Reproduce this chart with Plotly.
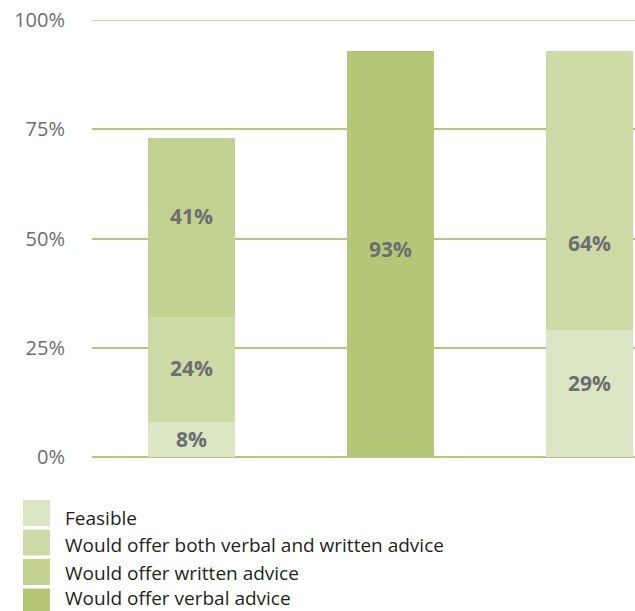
import plotly.graph_objects as go

# Three survey groups (no axis labels are shown for them)
categories = ["Group A", "Group B", "Group C"]

series_names = [
    "Feasible",
    "Would offer both verbal and written advice",
    "Would offer written advice",
    "Would offer verbal advice",
]
feasible = [8, None, 29]
both_advice = [24, None, 64]
written_advice = [41, None, None]
verbal_advice = [None, 93, None]

series_values = [feasible, both_advice, written_advice, verbal_advice]
series_colors = ["#dde6c4", "#cedaa6", "#c3d290", "#b5c777"]

# Vertical placement of each value label (in axis units)
label_y = {
    "Feasible": [4.1, None, 16.9],
    "Would offer both verbal and written advice": [20.4, None, 49.0],
    "Would offer written advice": [55.1, None, None],
    "Would offer verbal advice": [None, 47.6, None],
}

y_ticks = [0, 25, 50, 75, 100]
y_tick_labels = ["0%", "25%", "50%", "75%", "100%"]

TEXT_GREY = "#6d6e71"
GRID_GREEN = "#b5c87a"
FONT = "Open Sans, Liberation Sans, sans-serif"

fig = go.Figure()
for name, vals, color in zip(series_names, series_values, series_colors):
    fig.add_trace(go.Bar(
        x=categories, y=vals, name=name,
        marker=dict(color=color, line=dict(width=0)),
        showlegend=False, hoverinfo="skip",
    ))

annotations = []
for name, vals in zip(series_names, series_values):
    for cat, v, ly in zip(categories, vals, label_y[name]):
        if v is None:
            continue
        annotations.append(dict(
            x=cat, y=ly, xref="x", yref="y", text=f"<b>{v}%</b>",
            showarrow=False, font=dict(family=FONT, size=21, color=TEXT_GREY),
        ))

# Custom legend with large colour swatches below the plot
plot_left, plot_w, plot_bottom, plot_h = 92, 543, 457, 437
shapes = []
for i, (name, color) in enumerate(zip(series_names, series_colors)):
    top_px = 500 + i * 29.5
    shapes.append(dict(
        type="rect", xref="paper", yref="paper", line=dict(width=0),
        fillcolor=color, layer="above",
        x0=(23 - plot_left) / plot_w, x1=(50 - plot_left) / plot_w,
        y0=(plot_bottom - top_px) / plot_h, y1=(plot_bottom - top_px - 26) / plot_h,
    ))
    text_mid = min(518 + i * 27.4, 598)
    annotations.append(dict(
        xref="paper", yref="paper", x=(64 - plot_left) / plot_w,
        y=(plot_bottom - text_mid) / plot_h,
        xanchor="left", yanchor="middle", text=name, showarrow=False,
        borderpad=0,
        font=dict(family=FONT, size=19, color="#231f20"),
    ))

# Top gridline at 100%
shapes.append(dict(
    type="line", xref="paper", yref="y", x0=0, x1=1, y0=100, y1=100,
    line=dict(color=GRID_GREEN, width=1.5), layer="below",
))

fig.update_layout(
    width=635, height=611,
    margin=dict(l=92, r=0, t=20, b=154),
    barmode="stack", bargap=0.563,
    plot_bgcolor="white", paper_bgcolor="white",
    font=dict(family=FONT, color=TEXT_GREY),
    annotations=annotations, shapes=shapes,
    xaxis=dict(range=[-0.5, 2.229], showticklabels=False, showgrid=False,
               zeroline=False, showline=False, fixedrange=True),
    yaxis=dict(range=[0, 100], tickvals=y_ticks, ticktext=y_tick_labels,
               showgrid=True, gridcolor=GRID_GREEN, gridwidth=1.5,
               zeroline=True, zerolinecolor=GRID_GREEN, zerolinewidth=1.5,
               showline=False, ticks="",
               ticklabelstandoff=26,
               tickfont=dict(family=FONT, size=20, color=TEXT_GREY)),
)

fig.write_html("out.html")
